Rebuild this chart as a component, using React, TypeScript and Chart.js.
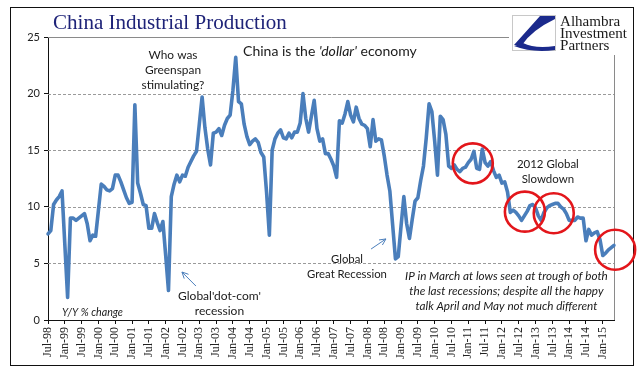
import React, { useEffect, useRef } from "react";
import { Chart, registerables } from "chart.js";

Chart.register(...registerables);

// ---------------- data ----------------
const MONTH_NAMES = ["Jan", "Feb", "Mar", "Apr", "May", "Jun", "Jul", "Aug", "Sep", "Oct", "Nov", "Dec"];
const START_YEAR = 1998;
const START_MONTH = 6; // July

// China industrial production, Y/Y % change, monthly Jul-98 .. May-15
const ipValues = [
  7.6, 7.9, 10.2, 10.6, 10.9, 11.4, // Jul-98..Dec-98
  6.7, 2.0, 9.0, 9.0, 8.8, 9.0, 9.2, 9.4, 8.5, 7.0, 7.5, 7.4, // 1999
  9.7, 12.0, 11.8, 11.5, 11.4, 11.6, 12.8, 12.8, 12.2, 11.5, 10.8, 10.3, // 2000
  10.4, 19.0, 12.1, 11.2, 10.2, 10.1, 8.1, 8.1, 9.4, 8.6, 7.9, 8.7, // 2001
  5.7, 2.6, 10.9, 12.0, 12.8, 12.2, 12.8, 12.7, 13.5, 14.0, 14.5, 14.9, // 2002
  17.3, 19.7, 17.0, 15.1, 13.7, 16.5, 16.6, 16.9, 16.3, 17.2, 17.8, 18.1, // 2003
  20.3, 23.2, 19.3, 19.1, 17.3, 16.2, 15.5, 15.8, 16.0, 15.7, 14.8, 14.4, // 2004
  11.3, 7.5, 15.0, 16.0, 16.5, 16.8, 16.1, 16.0, 16.5, 16.1, 16.6, 16.6, // 2005
  17.4, 20.0, 17.8, 16.6, 18.0, 19.4, 16.9, 15.8, 16.0, 14.7, 14.7, 14.2, // 2006
  13.6, 12.6, 17.6, 17.4, 18.2, 19.3, 18.1, 17.5, 18.8, 17.8, 17.3, 17.2, // 2007
  16.9, 15.3, 17.7, 15.8, 16.0, 15.9, 14.5, 12.8, 11.4, 8.4, 5.4, 5.6, // 2008
  8.3, 10.9, 8.5, 7.2, 8.9, 10.5, 10.8, 12.3, 13.6, 16.1, 19.1, 18.4, // 2009
  15.8, 12.8, 18.0, 17.7, 16.4, 13.6, 13.4, 13.7, 13.3, 13.1, 13.4, 13.5, // 2010
  13.9, 14.2, 14.9, 13.4, 13.3, 15.1, 13.9, 13.6, 14.0, 13.2, 12.6, 12.8, // 2011
  12.1, 12.2, 11.3, 9.5, 9.7, 9.5, 9.2, 8.8, 9.2, 9.6, 10.1, 10.2, // 2012
  9.9, 9.2, 8.8, 9.5, 9.9, 10.1, 10.2, 10.3, 10.3, 10.0, 9.8, 9.4, // 2013
  8.8, 8.8, 8.8, 9.1, 9.0, 9.0, 7.0, 8.0, 7.5, 7.7, 7.8, 7.1, // 2014
  5.7, 5.9, 6.2, 6.4, 6.6, // Jan-15..May-15
];

// month category labels (Jul-98 ...)
const monthLabels = ipValues.map((_, i) => {
  const t = START_MONTH + i;
  const yr = START_YEAR + Math.floor(t / 12);
  return MONTH_NAMES[t % 12] + "-" + String(yr % 100).padStart(2, "0");
});

const yTickValues = [0, 5, 10, 15, 20, 25];
const dashedGridValues = [5, 10, 15, 20];
const LABEL_EVERY = 6;

// annotations, in data coordinates (month index, value)
const circleMarks = [
  { m: 151.6, v: 13.84 },
  { m: 170.2, v: 9.57 },
  { m: 180.5, v: 9.43 },
  { m: 202.4, v: 6.21 },
];
const arrowMarks = [
  { from: { m: 52.8, v: 3.0 }, to: { m: 47.8, v: 4.24 } },
  { from: { m: 115.3, v: 6.27 }, to: { m: 120.6, v: 7.16 } },
];
const noteBlocks = [
  { lines: ["Who was", "Greenspan", "stimulating?"], m: 44.6, v: 23.41, width: 63, italic: false },
  { lines: ["2012 Global", "Slowdown"], m: 178.4, v: 13.78, width: 62, italic: false },
  { lines: ["Global", "Great Recession"], m: 106.7, v: 5.39, width: 80, italic: false },
  { lines: ["Global'dot-com'", "recession"], m: 61.2, v: 2.12, width: 83, italic: false },
  {
    lines: [
      "IP in March at lows seen at trough of both",
      "the last recessions; despite all the happy",
      "talk April and May not much different",
    ],
    m: 163.6,
    v: 3.89,
    width: 203,
    italic: true,
  },
];
const TITLE = "China Industrial Production";
const LOGO_LINES = ["Alhambra", "Investment", "Partners"];
const unitNote = { text: "Y/Y % change", m: 5.0, v: 0.62 };
const dollarNote = { parts: ["China is the ", "'dollar'", " economy"], m: 69.6, v: 23.76 };

const SANS = "Lato, 'Liberation Sans', sans-serif";
const SERIF = "'Liberation Serif', 'DejaVu Serif', serif";
const LINE_COLOR = "#4A7EBB";

function fitSize(ctx: CanvasRenderingContext2D, text: string, family: string, style: string, target: number) {
  ctx.font = `${style} 20px ${family}`;
  const w = ctx.measureText(text).width;
  return (20 * target) / w;
}

const decorPlugin = {
  id: "decor",
  beforeDatasetsDraw(chart: any) {
    const { ctx, chartArea } = chart;
    const y = chart.scales.y;
    ctx.save();
    ctx.lineWidth = 1;
    ctx.strokeStyle = "#9a9a9a";
    ctx.setLineDash([3, 2]);
    dashedGridValues.forEach((v) => {
      const py = Math.round(y.getPixelForValue(v)) + 0.5;
      ctx.beginPath();
      ctx.moveTo(chartArea.left, py);
      ctx.lineTo(chartArea.right, py);
      ctx.stroke();
    });
    ctx.setLineDash([]);
    ctx.strokeStyle = "#8a8a8a";
    const top = Math.round(y.getPixelForValue(25)) + 0.5;
    ctx.beginPath();
    ctx.moveTo(chartArea.left, top);
    ctx.lineTo(chartArea.right + 0.5, top);
    ctx.moveTo(Math.round(chartArea.right) + 0.5, top);
    ctx.lineTo(Math.round(chartArea.right) + 0.5, chartArea.bottom);
    ctx.stroke();
    ctx.restore();
  },
  afterDraw(chart: any) {
    const { ctx } = chart;
    const xs = chart.scales.x;
    const ys = chart.scales.y;
    const px = (m: number) => xs.getPixelForValue(m);
    const py = (v: number) => ys.getPixelForValue(v);
    ctx.save();

    // outer frame
    ctx.strokeStyle = "#111";
    ctx.lineWidth = 1;
    ctx.strokeRect(10.5, 7.5, 623, 358);

    // title
    const ts = fitSize(ctx, TITLE, SERIF, "", 234);
    ctx.font = `${ts}px ${SERIF}`;
    ctx.fillStyle = "#1E2378";
    ctx.textBaseline = "alphabetic";
    ctx.textAlign = "left";
    ctx.fillText(TITLE, 53, 29);

    // logo area
    ctx.fillStyle = "#ffffff";
    ctx.fillRect(509, 8, 124, 47);
    ctx.strokeStyle = "#c8c8c8";
    ctx.strokeRect(512.5, 15.5, 43, 35);
    ctx.fillStyle = "#1B2A8C";
    ctx.beginPath();
    ctx.moveTo(540, 16);
    ctx.lineTo(555, 16);
    ctx.lineTo(555, 19);
    ctx.quadraticCurveTo(532, 30, 522, 45);
    ctx.lineTo(514, 45);
    ctx.closePath();
    ctx.fill();
    ctx.beginPath();
    ctx.moveTo(514, 46);
    ctx.quadraticCurveTo(532, 53, 555, 50);
    ctx.lineTo(555, 46);
    ctx.quadraticCurveTo(535, 49, 523, 43);
    ctx.closePath();
    ctx.fill();
    const ls = fitSize(ctx, "Investment", SERIF, "", 67);
    ctx.font = `${ls}px ${SERIF}`;
    ctx.fillStyle = "#1a1a1a";
    ctx.textAlign = "left";
    LOGO_LINES.forEach((t, i) => ctx.fillText(t, 560, 26 + i * 12));

    // notes
    ctx.fillStyle = "#1a1a1a";
    ctx.textBaseline = "middle";
    noteBlocks.forEach((b) => {
      const widest = b.lines.reduce((a, c) => (c.length > a.length ? c : a), "");
      const style = b.italic ? "italic" : "";
      const s = fitSize(ctx, widest, SANS, style, b.width);
      ctx.font = `${style} ${s}px ${SANS}`;
      ctx.textAlign = "center";
      b.lines.forEach((t, i) => ctx.fillText(t, px(b.m), py(b.v) + i * 15));
    });

    // unit note
    {
      const s = fitSize(ctx, unitNote.text, SANS, "italic", 61);
      ctx.font = `italic ${s}px ${SANS}`;
      ctx.textAlign = "left";
      ctx.fillText(unitNote.text, px(unitNote.m), py(unitNote.v));
    }

    // 'dollar' note with italic middle part
    {
      const base = 20;
      const styles = ["", "italic", ""];
      let total = 0;
      dollarNote.parts.forEach((p, i) => {
        ctx.font = `${styles[i]} ${base}px ${SANS}`;
        total += ctx.measureText(p).width;
      });
      const s = (base * 174) / total;
      let x = px(dollarNote.m);
      ctx.textAlign = "left";
      dollarNote.parts.forEach((p, i) => {
        ctx.font = `${styles[i]} ${s}px ${SANS}`;
        ctx.fillText(p, x, py(dollarNote.v));
        x += ctx.measureText(p).width;
      });
    }

    // arrows
    ctx.strokeStyle = LINE_COLOR;
    ctx.lineWidth = 1;
    arrowMarks.forEach((a) => {
      const x1 = px(a.from.m), y1 = py(a.from.v);
      const x2 = px(a.to.m), y2 = py(a.to.v);
      const ang = Math.atan2(y2 - y1, x2 - x1);
      ctx.beginPath();
      ctx.moveTo(x1, y1);
      ctx.lineTo(x2, y2);
      const hl = 7;
      ctx.moveTo(x2, y2);
      ctx.lineTo(x2 - hl * Math.cos(ang - 0.45), y2 - hl * Math.sin(ang - 0.45));
      ctx.moveTo(x2, y2);
      ctx.lineTo(x2 - hl * Math.cos(ang + 0.45), y2 - hl * Math.sin(ang + 0.45));
      ctx.stroke();
    });

    // red circles
    ctx.strokeStyle = "#E3161B";
    ctx.lineWidth = 2.6;
    circleMarks.forEach((c) => {
      ctx.beginPath();
      ctx.arc(px(c.m), py(c.v), 20, 0, Math.PI * 2);
      ctx.stroke();
    });

    ctx.restore();
  },
};

export default function App() {
  const canvasRef = useRef<HTMLCanvasElement | null>(null);

  useEffect(() => {
    document.body.style.margin = "0";
    const canvas = canvasRef.current;
    if (!canvas) return;
    const chart = new Chart(canvas, {
      type: "line",
      data: {
        labels: monthLabels,
        datasets: [
          {
            data: ipValues,
            borderColor: LINE_COLOR,
            borderWidth: 3.6,
            pointRadius: 0,
            tension: 0,
            fill: false,
            borderJoinStyle: "round",
            borderCapStyle: "round",
          },
        ],
      },
      options: {
        animation: false,
        responsive: false,
        maintainAspectRatio: false,
        devicePixelRatio: 1,
        layout: { padding: { left: 0, top: 37, right: 27, bottom: 0 } },
        plugins: {
          legend: { display: false },
          tooltip: { enabled: false },
          title: { display: false },
        },
        scales: {
          x: {
            type: "category",
            offset: false,
            grid: { drawOnChartArea: false, drawTicks: true, tickLength: 4, tickColor: "#111", tickWidth: 1 },
            border: { color: "#111", width: 1 },
            ticks: {
              autoSkip: false,
              maxRotation: 90,
              minRotation: 90,
              padding: 3,
              color: "#222",
              font: { family: SERIF, size: 12 },
            },
            afterBuildTicks: (s: any) => {
              s.ticks = s.ticks.filter((t: any) => t.value % LABEL_EVERY === 0);
            },
            afterFit: (s: any) => {
              s.height = 59;
            },
          },
          y: {
            min: 0,
            max: 25,
            afterBuildTicks: (s: any) => {
              s.ticks = yTickValues.map((v) => ({ value: v }));
            },
            ticks: { padding: 4, color: "#222", font: { family: SANS, size: 11 } },
            grid: { drawOnChartArea: false, drawTicks: true, tickLength: 4, tickColor: "#111" },
            border: { color: "#111", width: 1 },
            afterFit: (s: any) => {
              s.width = 48;
            },
          },
        },
      },
      plugins: [decorPlugin],
    } as any);
    return () => chart.destroy();
  }, []);

  return (
    <div style={{ width: 641, height: 379, background: "#fff" }}>
      <canvas ref={canvasRef} width={641} height={379} style={{ width: 641, height: 379, display: "block" }} />
    </div>
  );
}
